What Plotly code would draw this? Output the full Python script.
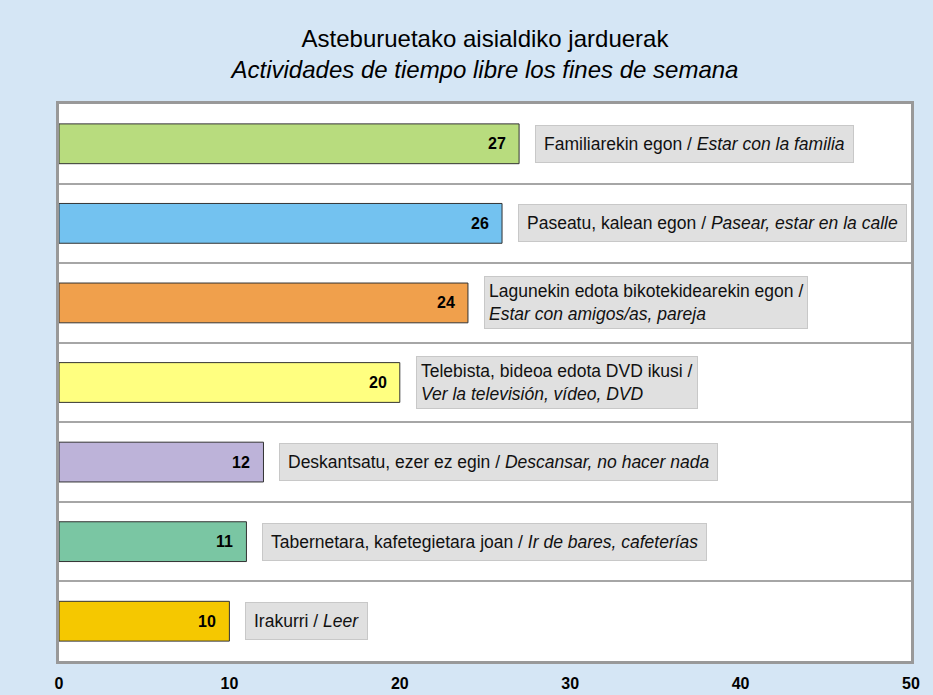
import plotly.graph_objects as go

values = [27, 26, 24, 20, 12, 11, 10]
labels_eu = [
    "Familiarekin egon",
    "Paseatu, kalean egon",
    "Lagunekin edota bikotekidearekin egon",
    "Telebista, bideoa edota DVD ikusi",
    "Deskantsatu, ezer ez egin",
    "Tabernetara, kafetegietara joan",
    "Irakurri",
]
labels_es = [
    "Estar con la familia",
    "Pasear, estar en la calle",
    "Estar con amigos/as, pareja",
    "Ver la televisión, vídeo, DVD",
    "Descansar, no hacer nada",
    "Ir de bares, cafeterías",
    "Leer",
]
two_line = [False, False, True, True, False, False, False]
colors = ["#b8dc7e", "#73c2f0", "#f0a04c", "#ffff80", "#bdb3d9", "#7ac6a3", "#f5c800"]
x_ticks = [0, 10, 20, 30, 40, 50]

FONT = "Liberation Sans, Arial, sans-serif"
pos = list(range(len(values)))

fig = go.Figure()
fig.add_trace(go.Bar(
    x=values, y=pos, orientation="h", width=0.5,
    marker=dict(color=colors, line=dict(color="#333333", width=1)),
    hoverinfo="skip",
))

annotations = []
for i, (v, eu, es, tl) in enumerate(zip(values, labels_eu, labels_es, two_line)):
    annotations.append(dict(
        x=v, y=i, xref="x", yref="y", text=f"<b>{v}</b>", showarrow=False,
        xanchor="right", xshift=-11, font=dict(family=FONT, size=16, color="#000"),
    ))
    sep = " /<br>" if tl else " / "
    annotations.append(dict(
        x=v, y=i, xref="x", yref="y", text=f"{eu}{sep}<i>{es}</i>", showarrow=False,
        xanchor="left", xshift=16, align="left",
        font=dict(family=FONT, size=17.5, color="#111111"),
        bgcolor="#e0e0e0", bordercolor="#c8c8c8", borderwidth=1,
        borderpad=4 if tl else 8,
    ))

fig.update_layout(
    width=933, height=695,
    paper_bgcolor="#d5e6f5", plot_bgcolor="#ffffff",
    margin=dict(l=59, r=22, t=104, b=34),
    showlegend=False,
    font=dict(family=FONT, color="#000"),
    title=dict(
        text="Asteburuetako aisialdiko jarduerak<br><i>Actividades de tiempo libre los fines de semana</i>",
        x=0.5, xref="paper", xanchor="center",
        y=1 - 47 / 695, yref="container", yanchor="top",
        font=dict(family=FONT, size=24, color="#000"),
    ),
    xaxis=dict(
        range=[0, 50], tickvals=x_ticks, showgrid=False, zeroline=False,
        showline=True, linecolor="#999999", linewidth=3, mirror=True,
        ticks="outside", ticklen=6, tickcolor="rgba(0,0,0,0)",
        tickfont=dict(family=FONT, size=16, color="#000", weight="bold"),
        fixedrange=True, automargin=False,
    ),
    yaxis=dict(
        range=[len(values) - 0.5, -0.5],
        tickvals=[p + 0.5 for p in pos[:-1]], showticklabels=False,
        showgrid=True, gridcolor="#a6a6a6", gridwidth=2, zeroline=False,
        showline=True, linecolor="#999999", linewidth=3, mirror=True,
        ticks="", fixedrange=True, automargin=False,
    ),
    annotations=annotations,
)

fig.write_html(
    "out.html",
    config={"displayModeBar": False},
    post_script="document.body.style.margin='0px';",
)
